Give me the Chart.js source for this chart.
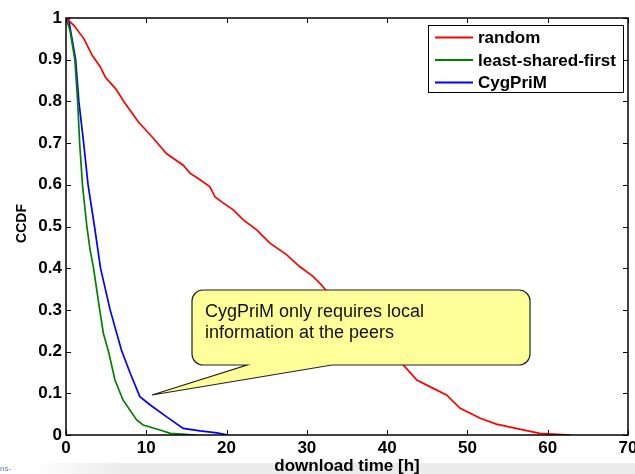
<!DOCTYPE html>
<html>
<head>
<meta charset="utf-8">
<script src="https://cdn.jsdelivr.net/npm/chart.js@4.4.1/dist/chart.umd.min.js"></script>
<style>
  html, body { margin: 0; padding: 0; background: #fff; }
  #wrap { width: 635px; height: 474px; position: relative; }
</style>
</head>
<body>
<div id="wrap"><canvas id="chart" width="635" height="474"></canvas></div>
<script>
// CCDF of download time
let seriesNames = ['random', 'least-shared-first', 'CygPriM'];
let seriesColors = ['#ff0000', '#008000', '#0000ff'];

let randomX = [0, 1.0, 2.24, 3.28, 4.3, 4.9, 6.2, 7.2, 9.0, 10.9, 12.5, 14.6, 15.44, 16.69, 17.93, 18.56, 19.39, 20.83, 22.08, 23.75, 25.4, 27.5, 29.1, 30.8, 31.8, 32.3, 42.2, 43.7, 45.3, 47.4, 49.1, 51.6, 53.6, 56.5, 59.0, 62.8];
let randomY = [1, 0.982, 0.95, 0.91, 0.882, 0.858, 0.83, 0.80, 0.751, 0.711, 0.675, 0.647, 0.628, 0.612, 0.595, 0.571, 0.559, 0.54, 0.516, 0.492, 0.46, 0.432, 0.404, 0.38, 0.36, 0.349, 0.164, 0.132, 0.116, 0.096, 0.064, 0.040, 0.026, 0.014, 0.004, 0];

let lsfX = [0, 0.5, 1.1, 1.45, 1.7, 2.05, 2.6, 3.0, 3.4, 4.2, 4.65, 5.3, 6.1, 7.1, 8.8, 9.6, 11.7, 13.0, 16.2];
let lsfY = [1, 0.97, 0.9, 0.8, 0.7, 0.6, 0.5, 0.444, 0.404, 0.3, 0.244, 0.2, 0.132, 0.084, 0.036, 0.024, 0.012, 0.004, 0];

let cygX = [0, 0.3, 1.2, 1.6, 2.2, 2.75, 3.55, 4.3, 5.5, 6.9, 8.0, 9.2, 10.5, 12.5, 14.6, 16.7, 18.8, 20.2];
let cygY = [1, 1, 0.9, 0.8, 0.7, 0.6, 0.5, 0.4, 0.3, 0.204, 0.148, 0.092, 0.072, 0.044, 0.016, 0.01, 0.005, 0];

let xTicks = [0, 10, 20, 30, 40, 50, 60, 70];
let yTicks = [0, 0.1, 0.2, 0.3, 0.4, 0.5, 0.6, 0.7, 0.8, 0.9, 1];

let calloutText = ['CygPriM only requires local', 'information at the peers'];

function pts(xs, ys) {
    return xs.map(function (x, i) { return { x: x, y: ys[i] }; });
}

let allX = [randomX, lsfX, cygX];
let allY = [randomY, lsfY, cygY];

let datasets = seriesNames.map(function (name, i) {
    return {
        label: name,
        data: pts(allX[i], allY[i]),
        borderColor: seriesColors[i],
        borderWidth: 1.7,
        pointRadius: 0,
        tension: 0,
        fill: false
    };
});

// white page + grey slide footer strip
let background = {
    id: 'background',
    beforeDraw: function (chart) {
        let ctx = chart.ctx;
        ctx.save();
        ctx.fillStyle = '#ffffff';
        ctx.fillRect(0, 0, chart.width, chart.height);
        let g = ctx.createLinearGradient(30, 0, 120, 0);
        g.addColorStop(0, 'rgba(236,236,236,0)');
        g.addColorStop(1, 'rgba(236,236,236,1)');
        ctx.fillStyle = g;
        ctx.fillRect(30, 463, chart.width - 30, chart.height - 463);
        ctx.fillStyle = '#5a7ea6';
        ctx.font = '8px "Liberation Sans", Arial, sans-serif';
        ctx.textBaseline = 'middle';
        ctx.fillText('ns-', 0, 469);
        ctx.restore();
    }
};

// matlab style box with inward ticks, titles, legend and callout
let decor = {
    id: 'decor',
    afterDraw: function (chart) {
        let ctx = chart.ctx;
        let a = chart.chartArea;
        let xs = chart.scales.x;
        let ys = chart.scales.y;
        let t = 5;
        ctx.save();
        ctx.strokeStyle = '#000';
        ctx.lineWidth = 1;
        ctx.beginPath();
        xTicks.forEach(function (v) {
            let px = Math.round(xs.getPixelForValue(v)) + 0.5;
            ctx.moveTo(px, a.bottom); ctx.lineTo(px, a.bottom - t);
            ctx.moveTo(px, a.top); ctx.lineTo(px, a.top + t);
        });
        yTicks.forEach(function (v) {
            let py = Math.round(ys.getPixelForValue(v)) + 0.5;
            ctx.moveTo(a.left, py); ctx.lineTo(a.left + t, py);
            ctx.moveTo(a.right, py); ctx.lineTo(a.right - t, py);
        });
        ctx.stroke();
        ctx.lineWidth = 1.5;
        ctx.strokeRect(a.left, a.top, a.right - a.left, a.bottom - a.top);

        // axis titles
        ctx.fillStyle = '#000';
        ctx.font = 'bold 17px "Liberation Sans", Arial, sans-serif';
        ctx.textAlign = 'center';
        ctx.textBaseline = 'middle';
        ctx.fillText('download time [h]', (a.left + a.right) / 2, 466);
        ctx.save();
        ctx.translate(22, (a.top + a.bottom) / 2 - 3);
        ctx.rotate(-Math.PI / 2);
        ctx.font = 'bold 14px "Liberation Sans", Arial, sans-serif';
        ctx.fillText('CCDF', 0, 0);
        ctx.restore();

        // legend
        let lx = 428, ly = 25, lw = 195, lh = 67;
        ctx.fillStyle = '#fff';
        ctx.fillRect(lx, ly, lw, lh);
        ctx.lineWidth = 1;
        ctx.strokeStyle = '#000';
        ctx.strokeRect(lx + 0.5, ly + 0.5, lw, lh);
        ctx.font = 'bold 17px "Liberation Sans", Arial, sans-serif';
        ctx.textAlign = 'left';
        chart.data.datasets.forEach(function (ds, i) {
            let ry = ly + 12.5 + i * 22.5;
            ctx.strokeStyle = ds.borderColor;
            ctx.lineWidth = 2;
            ctx.beginPath();
            ctx.moveTo(lx + 7, ry); ctx.lineTo(lx + 45, ry);
            ctx.stroke();
            ctx.fillStyle = '#000';
            ctx.fillText(ds.label, lx + 50, ry + 1);
        });

        // callout
        let bx0 = 192, by0 = 290, bx1 = 530, by1 = 365, r = 11;
        ctx.beginPath();
        ctx.moveTo(bx0 + r, by0);
        ctx.lineTo(bx1 - r, by0);
        ctx.arcTo(bx1, by0, bx1, by0 + r, r);
        ctx.lineTo(bx1, by1 - r);
        ctx.arcTo(bx1, by1, bx1 - r, by1, r);
        ctx.lineTo(332, by1);
        ctx.lineTo(152, 395);
        ctx.lineTo(247, by1);
        ctx.lineTo(bx0 + r, by1);
        ctx.arcTo(bx0, by1, bx0, by1 - r, r);
        ctx.lineTo(bx0, by0 + r);
        ctx.arcTo(bx0, by0, bx0 + r, by0, r);
        ctx.closePath();
        ctx.fillStyle = '#ffff99';
        ctx.fill();
        ctx.strokeStyle = '#222';
        ctx.lineWidth = 1.2;
        ctx.stroke();
        ctx.fillStyle = '#111';
        ctx.font = '18px "Liberation Sans", Arial, sans-serif';
        ctx.textBaseline = 'middle';
        calloutText.forEach(function (line, i) {
            ctx.fillText(line, 205, 312 + i * 21.5);
        });
        ctx.restore();
    }
};

let tickFont = { family: '"Liberation Sans", Arial, sans-serif', size: 17, weight: 'bold' };

let chart = new Chart(document.getElementById('chart').getContext('2d'), {
    type: 'line',
    data: { datasets: datasets },
    options: {
        responsive: false,
        animation: false,
        layout: { padding: { top: 18, right: 7, left: 0, bottom: 0 } },
        plugins: { legend: { display: false }, tooltip: { enabled: false } },
        scales: {
            x: {
                type: 'linear',
                min: 0, max: 70,
                afterBuildTicks: function (s) { s.ticks = xTicks.map(function (v) { return { value: v }; }); },
                ticks: { color: '#000', font: tickFont, padding: 3, maxRotation: 0 },
                grid: { display: false, drawTicks: false },
                border: { display: false },
                afterFit: function (s) { s.height = 39; s.paddingLeft = 0; s.paddingRight = 0; }
            },
            y: {
                type: 'linear',
                min: 0, max: 1,
                afterBuildTicks: function (s) { s.ticks = yTicks.map(function (v) { return { value: v }; }); },
                ticks: {
                    color: '#000', font: tickFont, padding: 4,
                    callback: function (v) { return String(+v.toFixed(1)); }
                },
                grid: { display: false, drawTicks: false },
                border: { display: false },
                afterFit: function (s) { s.width = 66; s.paddingTop = 0; s.paddingBottom = 0; }
            }
        }
    },
    plugins: [background, decor]
});
</script>
</body>
</html>
